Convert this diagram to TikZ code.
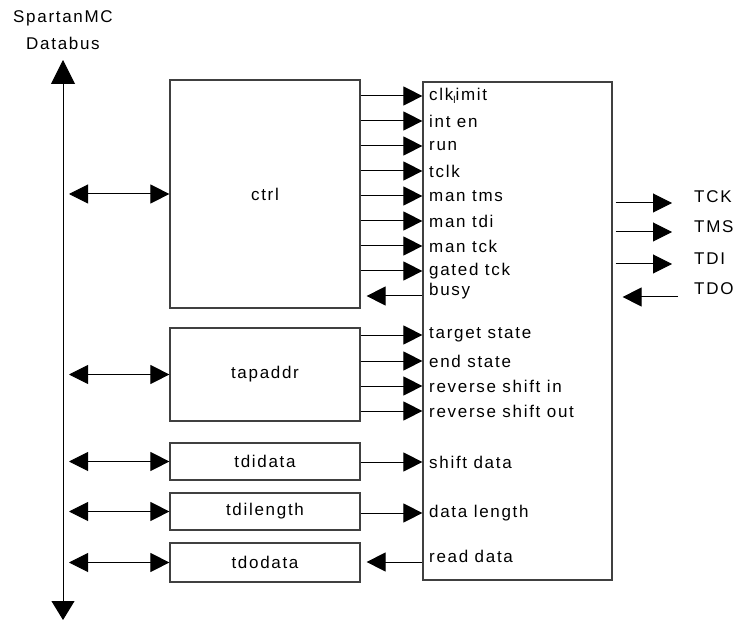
\documentclass[tikz,border=0pt]{standalone}
\usepackage{fontspec}
\setmainfont{Liberation Sans}[LetterSpace=10]
\usetikzlibrary{arrows.meta,calc}
\begin{document}
\begin{tikzpicture}[x=1pt,y=-1pt,
  font=\fontsize{17}{20}\selectfont,
  box/.style={draw=black!75, line width=1.2pt, inner sep=0pt, minimum width=190pt},
  lbl/.style={anchor=west, inner sep=0pt},
  sig/.style={line width=1pt, -{Triangle[length=19pt,width=19pt]}},
  dbl/.style={line width=1pt, {Triangle[length=19pt,width=19pt]}-{Triangle[length=19pt,width=19pt]}}]
\useasboundingbox (0,0) rectangle (736,620);

% data bus
\node (sp) at (63,18) {SpartanMC};
\node (db) at (63,43) {Databus};
\coordinate (bt) at (63,60);
\coordinate (bb) at (63,620);
\coordinate (busR) at (69,300);
\draw[line width=1pt, {Triangle[length=24pt,width=24pt]}-{Triangle[length=19pt,width=23pt]}] (bt) -- (bb);

% register boxes
\node[box, minimum height=228pt] (ctrl) at (265,194) {ctrl};
\node[box, minimum height=93pt] (tap) at (265,374.5) {tapaddr};
\node[box, minimum height=37pt] (tdi) at (265,461.5) {tdidata};
\node[box, minimum height=37pt] (tdl) at (265,511.5) {tdilength};
\node[box, minimum height=39pt] (tdo) at (265,562.5) {tdodata};

% main block
\node[box, minimum width=189pt, minimum height=498pt] (main) at (517.5,331) {};

% bus connections
\draw[dbl] (busR |- ctrl) -- (ctrl.west);
\draw[dbl] (busR |- tap) -- (tap.west);
\draw[dbl] (busR |- tdi) -- (tdi.west);
\draw[dbl] (busR |- tdl) -- (tdl.west);
\draw[dbl] (busR |- tdo) -- (tdo.west);

% ctrl signals
\node[lbl] (s1) at (429,96) {clk\raisebox{-3pt}{\fontsize{10}{10}\selectfont l}imit};
\node[lbl] (s2) at (429,121) {int en};
\node[lbl] (s3) at (429,146) {run};
\node[lbl] (s4) at (429,171) {tclk};
\node[lbl] (s5) at (429,196) {man tms};
\node[lbl] (s6) at (429,221) {man tdi};
\node[lbl] (s7) at (429,246) {man tck};
\node[lbl] (s8) at (429,271) {gated tck};
\node[lbl] (s9) at (429,291) {busy};
\foreach \s in {s1,s2,s3,s4,s5,s6,s7,s8}
  \draw[sig] (ctrl.east |- \s) -- (main.west |- \s);
\draw[sig] ($(main.west |- s9)+(0,5)$) -- ($(ctrl.east |- s9)+(6,5)$);

% tapaddr signals
\node[lbl] (t1) at (429,335) {target state};
\node[lbl] (t2) at (429,361) {end state};
\node[lbl] (t3) at (429,386) {reverse shift in};
\node[lbl] (t4) at (429,411) {reverse shift out};
\foreach \s in {t1,t2,t3,t4}
  \draw[sig] (tap.east |- \s) -- (main.west |- \s);

% data signals
\node[lbl] (d1) at (429,462) {shift data};
\node[lbl] (d2) at (429,513) {data length};
\node[lbl] (d3) at (429,556) {read data};
\draw[sig] (tdi.east |- d1) -- (main.west |- d1);
\draw[sig] (tdl.east |- d2) -- (main.west |- d2);
\draw[sig] ($(main.west |- d3)+(0,6)$) -- ($(tdo.east |- d3)+(6,6)$);

% JTAG pins
\node[lbl] (tck) at (694,197) {TCK};
\node[lbl] (tms) at (694,227) {TMS};
\node[lbl] (tdipin) at (694,259) {TDI};
\node[lbl] (tdopin) at (694,289) {TDO};
\draw[sig] ($(main.east |- tck.west)+(3,6)$) -- ($(tck.west)+(-22,6)$);
\draw[sig] ($(main.east |- tms.west)+(3,5)$) -- ($(tms.west)+(-22,5)$);
\draw[sig] ($(main.east |- tdipin.west)+(3,5)$) -- ($(tdipin.west)+(-22,5)$);
\draw[sig] ($(tdopin.west)+(-16,8)$) -- ($(main.east |- tdopin.west)+(10,8)$);
\end{tikzpicture}
\end{document}
